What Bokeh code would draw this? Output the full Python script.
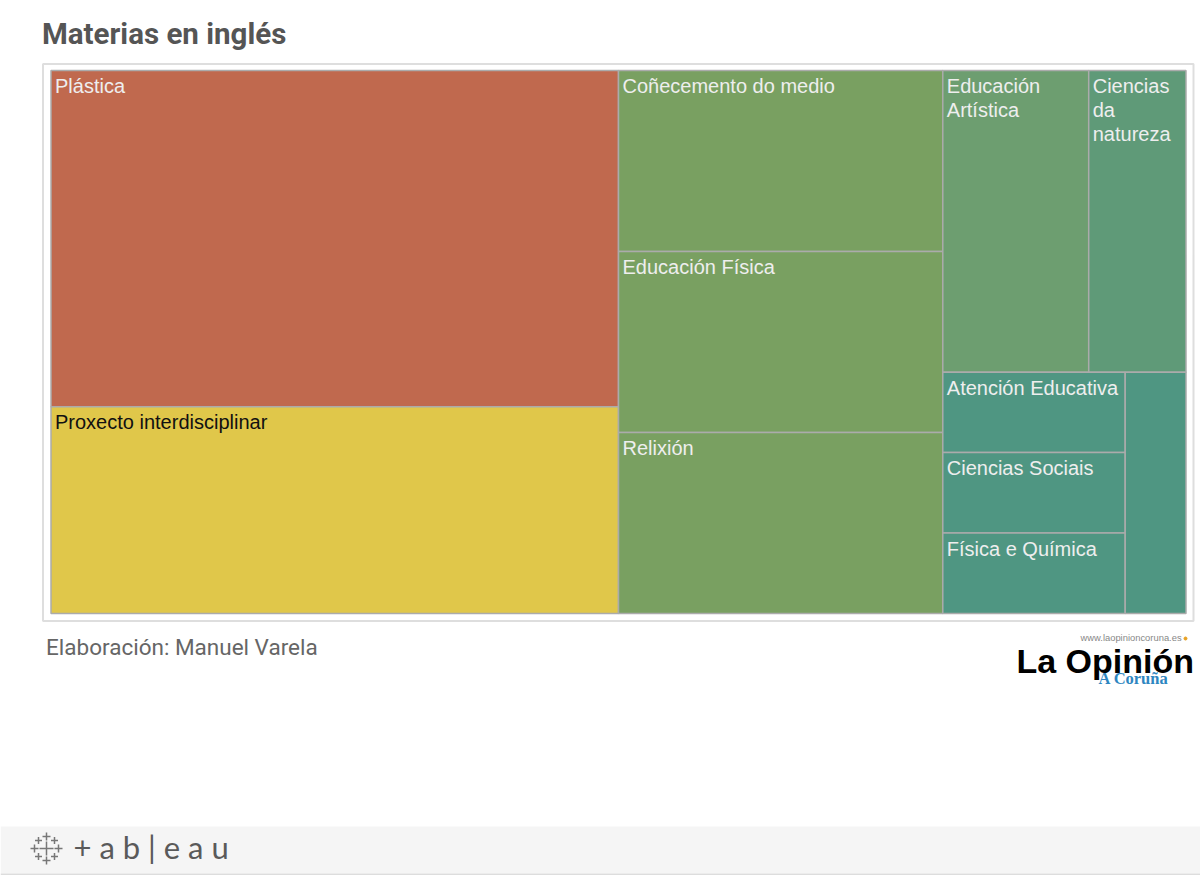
from bokeh.plotting import figure
from bokeh.embed import file_html
from bokeh.resources import INLINE
from bokeh.core.properties import value

# Treemap data: number of schools per subject
names = ["Plástica", "Proxecto interdisciplinar", "Coñecemento do medio", "Educación Física", "Relixión",
         "Educación\nArtística", "Ciencias\nda\nnatureza", "Atención Educativa", "Ciencias Sociais",
         "Física e Química", ""]
values = [13, 8, 4, 4, 4, 3, 2, 1, 1, 1, 1]
colors = ["#C0694E", "#E0C74A", "#79A061", "#79A061", "#79A061", "#6D9E70", "#5F9A78",
          "#4F9682", "#4F9682", "#4F9682", "#4F9682"]
text_colors = ["#EEEEEE", "#111111"] + ["#EEEEEE"] * 9

# How the treemap is split: "h" side by side, "v" stacked
tree = ("h", [("v", [0, 1]),
              ("v", [2, 3, 4]),
              ("v", [("h", [5, 6]),
                     ("h", [("v", [7, 8, 9]), 10])])])

# Page pixels of the treemap box
box = (50.5, 70, 1185.5, 613)


def total(node):
    if isinstance(node, int):
        return values[node]
    return sum(total(c) for c in node[1])


def layout(node, x0, y0, x1, y1, out):
    if isinstance(node, int):
        out[node] = (x0, y0, x1, y1)
        return
    direction, children = node
    whole = total(node)
    pos = 0
    for c in children:
        a = pos / whole
        pos += total(c)
        b = pos / whole
        if direction == "h":
            layout(c, x0 + (x1 - x0) * a, y0, x0 + (x1 - x0) * b, y1, out)
        else:
            layout(c, x0, y0 + (y1 - y0) * a, x1, y0 + (y1 - y0) * b, out)


cells = {}
layout(tree, *box, cells)

# The figure uses page pixels, with y pointing down
p = figure(width=1200, height=875, x_range=(0, 1200), y_range=(875, 0),
           output_backend="svg", toolbar_location=None, min_border=0)
p.axis.visible = False
p.grid.visible = False
p.outline_line_color = None

# Outer frame
p.quad(left=[42.5], right=[1193], top=[63.5], bottom=[620.5], fill_color="white",
       line_color="#DEDEDE", line_width=2)

# Cells
p.quad(left=[cells[i][0] for i in range(len(names))],
       right=[cells[i][2] for i in range(len(names))],
       top=[cells[i][1] for i in range(len(names))],
       bottom=[cells[i][3] for i in range(len(names))],
       fill_color=colors, line_color="#ABABAB", line_width=1.5)

# Cell labels, one row per text line
tx, ty, tt, tc = [], [], [], []
for i, name in enumerate(names):
    if not name:
        continue
    for j, row in enumerate(name.split("\n")):
        tx.append(cells[i][0] + 4)
        ty.append(cells[i][1] + 15.5 + 24 * j)
        tt.append(row)
        tc.append(text_colors[i])
p.text(tx, ty, text=tt, text_color=tc, text_font=value("Liberation Sans"), text_font_size="20px",
       text_baseline="alphabetic")

# Title and credit
p.text([41.5], [33], text=["Materias en inglés"], text_font=value("Roboto"), text_font_style="bold",
       text_font_size="29.5px", text_color="#555555", text_baseline="alphabetic")
p.text([45.5], [646], text=["Elaboración: Manuel Varela"], text_font=value("Roboto"), text_font_size="22.5px",
       text_color="#666666", text_baseline="alphabetic")

# Newspaper logo
p.text([1080], [637], text=["www.laopinioncoruna.es"], text_font=value("Liberation Sans"), text_font_size="9.4px",
       text_color="#888888", text_baseline="alphabetic")
p.scatter([1185], [638], size=3, color="#E8A020")
p.text([1016], [660], text=["La Opinión"], text_font=value("Liberation Sans"), text_font_style="bold",
       text_font_size="34px", text_color="#000000", text_baseline="alphabetic")
p.text([1098], [678], text=["A Coruña"], text_font=value("Liberation Serif"), text_font_style="bold",
       text_font_size="16.5px", text_color="#2E86C1", text_baseline="alphabetic")

# Bottom bar with the tableau mark
p.quad(left=[0], right=[1200], top=[826], bottom=[873], fill_color="#F5F5F5", line_color=None)
p.segment([0], [874], [1200], [874], line_color="#DDDDDD", line_width=2)
cross_x = [46, 46, 46, 34, 58, 38, 54, 38, 54]
cross_y = [848, 836, 860, 848, 848, 840, 840, 856, 856]
cross_r = [7, 4, 4, 4, 4, 3.5, 3.5, 3.5, 3.5]
p.segment([x - r for x, r in zip(cross_x, cross_r)], cross_y,
          [x + r for x, r in zip(cross_x, cross_r)], cross_y, line_color="#777777", line_width=1.5)
p.segment(cross_x, [y - r for y, r in zip(cross_y, cross_r)],
          cross_x, [y + r for y, r in zip(cross_y, cross_r)], line_color="#777777", line_width=1.5)
p.text([73], [846.5], text=["+ a b | e a u"], text_font=value("Lato"), text_font_size="31px",
       text_color="#5A5A5A", text_baseline="alphabetic")

open("out.html", "w").write(file_html(p, INLINE))
